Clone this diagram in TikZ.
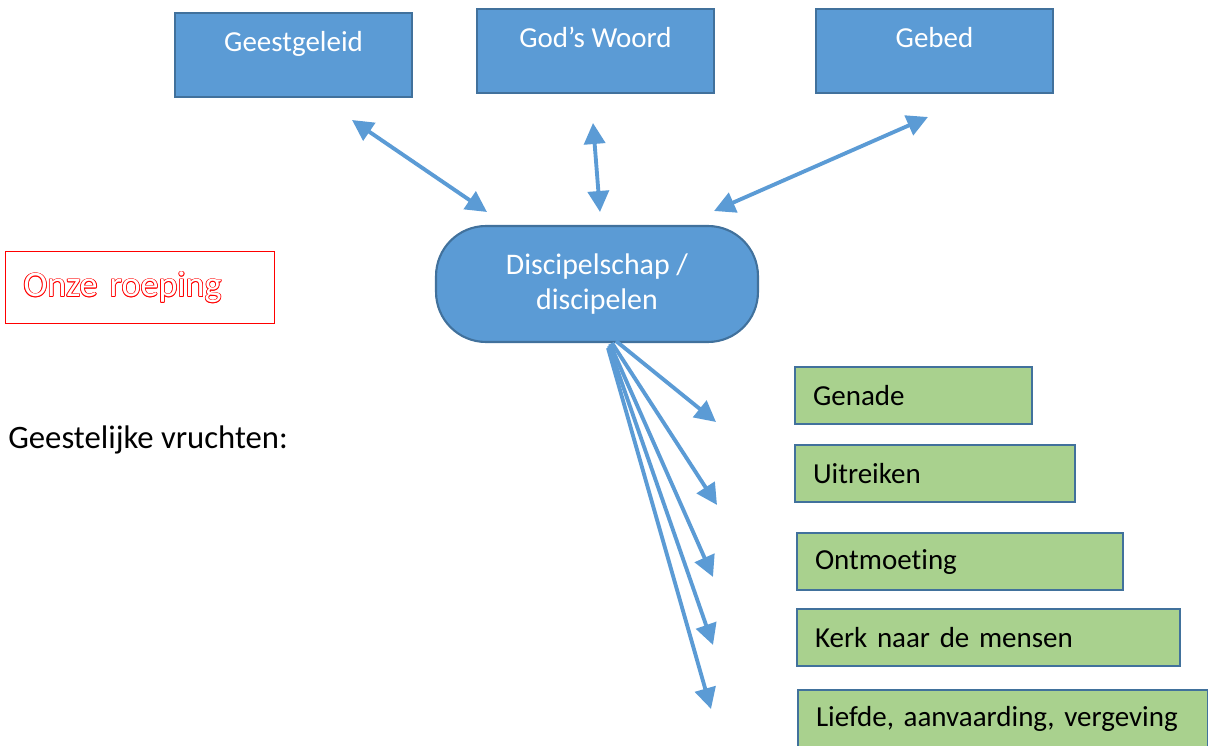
\documentclass[tikz,border=0pt]{standalone}
\usepackage{fontspec}
\setmainfont[Ligatures=NoCommon]{Carlito}
\usetikzlibrary{arrows.meta}
\definecolor{boxblue}{HTML}{5B9BD5}
\definecolor{boxline}{HTML}{41719C}
\definecolor{fruitgreen}{HTML}{A9D18E}
\newcommand{\hollowtext}[1]{%
  \leavevmode
  \rlap{\textcolor{red}{\kern0.45pt#1}}%
  \rlap{\textcolor{red}{\kern-0.45pt#1}}%
  \rlap{\textcolor{red}{\raisebox{0.45pt}{#1}}}%
  \rlap{\textcolor{red}{\raisebox{-0.45pt}{#1}}}%
  \rlap{\textcolor{red}{\kern0.32pt\raisebox{0.32pt}{#1}}}%
  \rlap{\textcolor{red}{\kern-0.32pt\raisebox{0.32pt}{#1}}}%
  \rlap{\textcolor{red}{\kern0.32pt\raisebox{-0.32pt}{#1}}}%
  \rlap{\textcolor{red}{\kern-0.32pt\raisebox{-0.32pt}{#1}}}%
  \textcolor{white}{#1}}
\begin{document}
\begin{tikzpicture}[x=0.02cm,y=-0.02cm,
    bron/.style={draw=boxline,fill=boxblue,line width=1.2pt,text=white,inner sep=0pt,
      minimum width=4.74cm,text height=0.77cm,text depth=0.91cm,anchor=north west,
      font=\fontsize{16.5}{20}\selectfont},
    vrucht/.style={draw=boxline,fill=fruitgreen,line width=1.2pt,inner xsep=0.36cm,inner ysep=0pt,
      minimum height=1.14cm,text width=#1,align=left,anchor=north west,
      font=\fontsize{16.5}{20}\selectfont},
    pijl/.style={draw=boxblue,line width=2.2pt,-{Triangle[length=0.42cm,width=0.42cm]}},
    heenweer/.style={pijl,{Triangle[length=0.42cm,width=0.42cm]}-{Triangle[length=0.42cm,width=0.42cm]}}]
    \useasboundingbox (0,0) rectangle (1208,746);
    %% sources
    \node[bron] (geest) at (174,12) {Geestgeleid};
    \node[bron] (woord) at (476,8) {God’s Woord};
    \node[bron] (gebed) at (815,8) {Gebed};
    %% centre
    \node[draw=boxline,fill=boxblue,line width=1.2pt,rounded corners=1cm,
      minimum width=6.44cm,minimum height=2.32cm,text=white,align=center,
      font=\fontsize{17}{20.4}\selectfont] (kern) at (597,284) {Discipelschap /\\discipelen};
    %% calling
    \node[draw=red,line width=0.6pt,inner xsep=0.36cm,inner ysep=0pt,minimum height=1.44cm,
      text width=4.66cm,align=left,anchor=north west,
      font=\fontsize{20.5}{24}\selectfont] (roeping) at (5,251) {\hollowtext{Onze roeping}};
    \node[anchor=west,inner sep=0pt,font=\fontsize{18.6}{22}\selectfont] (vruchten) at (8,440) {Geestelijke vruchten:};
    %% fruits
    \node[vrucht=4.02cm] (genade) at (794,366) {Genade};
    \node[vrucht=4.88cm] (uitreiken) at (794,444) {Uitreiken};
    \node[vrucht=5.80cm] (ontmoeting) at (796,532) {Ontmoeting};
    \node[vrucht=6.94cm] (kerk) at (796,608) {Kerk naar de mensen};
    \node[vrucht=7.48cm] (liefde) at (797,689) {Liefde, aanvaarding, vergeving};
    %% two-way arrows
    \coordinate (geest-a) at (352,120);
    \coordinate (geest-b) at (487,212);
    \coordinate (woord-a) at (593,123);
    \coordinate (woord-b) at (600,212);
    \coordinate (gebed-a) at (928,117);
    \coordinate (gebed-b) at (714,211);
    \draw[heenweer] (geest-a) -- (geest-b);
    \draw[heenweer] (woord-a) -- (woord-b);
    \draw[heenweer] (gebed-a) -- (gebed-b);
    %% arrows to the fruits
    \foreach \n/\sx/\sy/\ex/\ey in {1/616/341/716/422,2/612/343/717/505,3/610/344/713/577,4/609/346/713/645,5/608/348/711/709} {
        \coordinate (uit\n) at (\sx,\sy);
        \coordinate (in\n) at (\ex,\ey);
        \draw[pijl] (uit\n) -- (in\n);
    }
\end{tikzpicture}
\end{document}
